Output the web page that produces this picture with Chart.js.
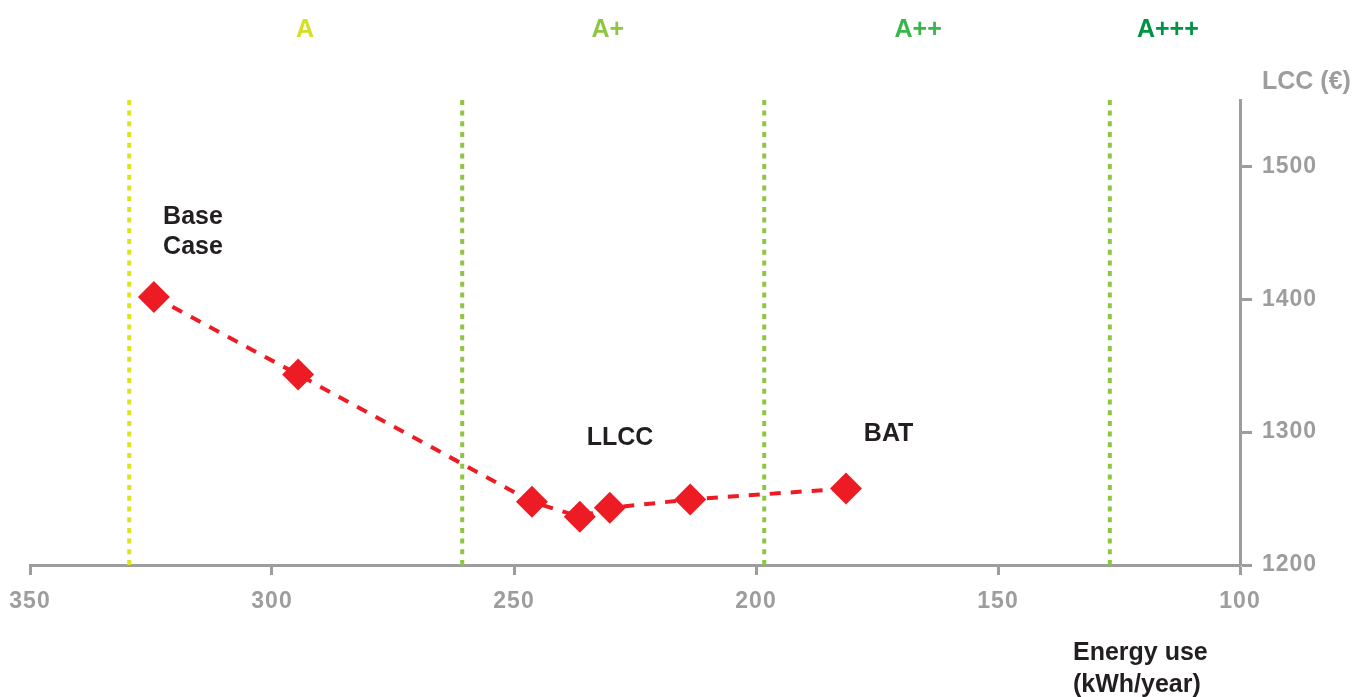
<!DOCTYPE html>
<html>
<head>
<meta charset="utf-8">
<script src="https://cdn.jsdelivr.net/npm/chart.js@4.4.1/dist/chart.umd.min.js"></script>
<style>
  html, body { margin: 0; padding: 0; background: #ffffff; }
  #wrap { position: relative; width: 1355px; height: 697px; }
</style>
</head>
<body>
<div id="wrap"><canvas id="c" width="1355" height="697"></canvas></div>
<script>
// Design options: annual energy use (kWh/year) and life cycle cost (€)
const energyUse = [324.4, 294.6, 246.3, 236.4, 230.2, 213.6, 181.4];
const lccValues = [1401.8, 1343.3, 1247.6, 1236.3, 1243, 1249.3, 1257.6];

// Energy label class boundaries and class names along the top
const classBounds = [329.5, 260.7, 198.3, 126.9];
const classBoundColors = ['#dde31e', '#8dc63f', '#8dc63f', '#8dc63f'];
const classNames = ['A', 'A+', 'A++', 'A+++'];
const classNamePos = [293.2, 230.6, 166.5, 114.9];
const classNameColors = ['#d7df23', '#8dc63f', '#39b54a', '#009245'];

// Axis ticks
const xTicks = [350, 300, 250, 200, 150, 100];
const yTicks = [1200, 1300, 1400, 1500];

// Point annotations: [text lines, energy, lcc, alignment]
const notes = [
  [['Base', 'Case'], 322.5, 1462, 'left'],
  [['LLCC'], 228.1, 1295.5, 'center'],
  [['BAT'], 172.6, 1298.5, 'center']
];

const GREY = '#9d9d9f';
const DARK = '#231f20';
const FONT = '"Liberation Sans", Arial, Helvetica, sans-serif';

const boundDatasets = classBounds.map((e, i) => ({
  type: 'line',
  data: [{ x: e, y: 1200 }, { x: e, y: 1553 }],
  borderColor: classBoundColors[i],
  borderWidth: 4,
  borderDash: [5, 5.7],
  pointRadius: 0,
  clip: false,
  order: 2
}));

// tick labels are set slightly tracked out
const spacingPlugin = {
  id: 'spacing',
  beforeUpdate(chart) { chart.ctx.letterSpacing = '1px'; },
  beforeDraw(chart) { chart.ctx.letterSpacing = '1px'; }
};

const textPlugin = {
  id: 'texts',
  afterDatasetsDraw(chart) {
    const { ctx, scales } = chart;
    const xs = scales.x, ys = scales.y;
    ctx.save();
    ctx.letterSpacing = '0px';
    ctx.textBaseline = 'middle';
    ctx.font = 'bold 25px ' + FONT;
    // class names
    ctx.textAlign = 'center';
    classNames.forEach((n, i) => {
      ctx.fillStyle = classNameColors[i];
      ctx.fillText(n, xs.getPixelForValue(classNamePos[i]), 30);
    });
    // annotations
    ctx.fillStyle = DARK;
    notes.forEach(([lines, e, v, align]) => {
      ctx.textAlign = align;
      const px = xs.getPixelForValue(e);
      const py = ys.getPixelForValue(v);
      lines.forEach((t, k) => ctx.fillText(t, px, py + k * 30));
    });
    // axis titles
    ctx.textAlign = 'left';
    ctx.fillText('Energy use', 1073, 653);
    ctx.fillText('(kWh/year)', 1073, 685);
    ctx.fillStyle = GREY;
    ctx.fillText('LCC (€)', 1262, 82);
    ctx.restore();
  }
};

new Chart(document.getElementById('c'), {
  type: 'line',
  data: {
    datasets: [
      {
        data: energyUse.map((e, i) => ({ x: e, y: lccValues[i] })),
        borderColor: '#ed1c24',
        backgroundColor: '#ed1c24',
        borderWidth: 4,
        borderDash: [11, 10],
        pointStyle: 'rectRot',
        pointRadius: 16,
        pointBorderWidth: 0,
        pointBackgroundColor: '#ed1c24',
        fill: false,
        tension: 0,
        clip: false,
        order: 1
      },
      ...boundDatasets
    ]
  },
  options: {
    responsive: false,
    animation: false,
    events: [],
    layout: { padding: { left: 30, top: 100, right: 0, bottom: 0 } },
    plugins: { legend: { display: false }, tooltip: { enabled: false } },
    scales: {
      x: {
        type: 'linear',
        position: 'bottom',
        reverse: true,
        min: 100,
        max: 350,
        afterBuildTicks(s) { s.ticks = xTicks.map(v => ({ value: v })); },
        afterFit(s) { s.height = 132; },
        border: { display: true, color: GREY, width: 3 },
        grid: { drawOnChartArea: false, drawTicks: true, tickLength: 10, tickWidth: 3, tickColor: GREY },
        ticks: {
          color: GREY,
          font: { family: FONT, size: 23, weight: 'bold', lineHeight: 2.3 },
          padding: 0,
          maxRotation: 0,
          callback: v => String(v)
        }
      },
      y: {
        type: 'linear',
        position: 'right',
        min: 1200,
        max: 1550,
        afterBuildTicks(s) { s.ticks = yTicks.map(v => ({ value: v })); },
        afterFit(s) { s.width = 115; },
        border: { display: true, color: GREY, width: 3 },
        grid: { drawOnChartArea: false, drawTicks: true, tickLength: 12, tickWidth: 3, tickColor: GREY },
        ticks: {
          color: GREY,
          font: { family: FONT, size: 23, weight: 'bold' },
          padding: 10,
          callback: v => String(v)
        }
      }
    }
  },
  plugins: [spacingPlugin, textPlugin]
});
</script>
</body>
</html>
